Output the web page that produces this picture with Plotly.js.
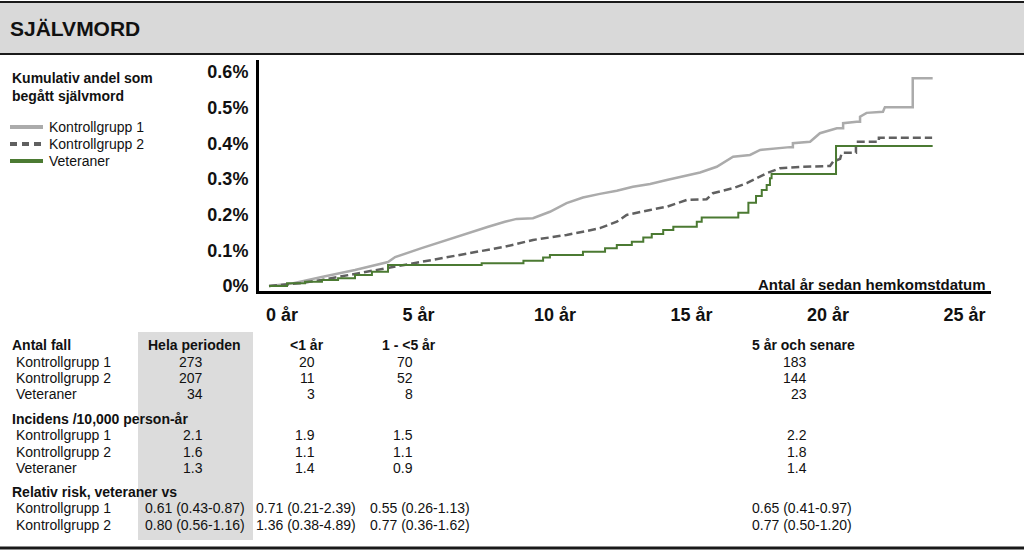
<!DOCTYPE html>
<html><head><meta charset="utf-8">
<script src="https://cdn.plot.ly/plotly-3.0.1.min.js"></script>
<style>html,body{margin:0;padding:0;background:#fff}#chart{width:1024px;height:552px}</style>
</head><body><div id="chart"></div>
<script>
// ---------- data ----------
const chartTitle = 'SJÄLVMORD';
const legendTitle = 'Kumulativ andel som<br>begått självmord';
const xAxisTitle = 'Antal år sedan hemkomstdatum';
const seriesNames = ['Kontrollgrupp 1', 'Kontrollgrupp 2', 'Veteraner'];

// Kontrollgrupp 1 (years since homecoming, cumulative %)
const k1Years = [0, 0.77, 1.93, 3.15, 4.36, 4.62, 5.59, 6.81, 8.03, 8.64, 9.07, 9.67, 10.29, 10.90, 11.50, 12.12, 12.74, 13.33, 13.96, 14.57, 15.16, 15.79, 16.40, 17.00, 17.62, 17.99, 19.08, 19.19, 19.19, 19.82, 20.18, 20.80, 21.03, 21.03, 21.53, 21.65, 21.65, 21.89, 22.49, 22.56, 23.58, 23.58, 24.31];
const k1Pct   = [0, 0.006, 0.025, 0.045, 0.067, 0.081, 0.106, 0.137, 0.166, 0.180, 0.188, 0.190, 0.208, 0.232, 0.248, 0.258, 0.267, 0.278, 0.286, 0.297, 0.308, 0.318, 0.334, 0.362, 0.367, 0.381, 0.389, 0.389, 0.400, 0.404, 0.428, 0.442, 0.442, 0.456, 0.460, 0.460, 0.474, 0.485, 0.488, 0.501, 0.501, 0.582, 0.582];

// Kontrollgrupp 2
const k2Years = [0, 1.14, 1.93, 3.15, 4.37, 5.59, 6.81, 8.03, 8.64, 9.67, 10.29, 10.90, 11.50, 12.12, 12.74, 13.10, 13.96, 14.57, 15.30, 16.03, 16.26, 17.00, 17.50, 17.73, 18.23, 18.72, 19.51, 20.55, 20.66, 20.92, 20.98, 21.50, 21.50, 22.34, 22.34, 24.29];
const k2Pct   = [0, 0.008, 0.017, 0.034, 0.050, 0.068, 0.084, 0.101, 0.110, 0.129, 0.136, 0.143, 0.152, 0.162, 0.180, 0.199, 0.213, 0.222, 0.241, 0.243, 0.260, 0.274, 0.288, 0.297, 0.316, 0.330, 0.334, 0.336, 0.348, 0.356, 0.373, 0.373, 0.404, 0.404, 0.415, 0.415];

// Veteraner (step function)
const vetYears = [0, 0.66, 1.32, 1.94, 2.53, 3.15, 3.77, 4.36, 7.79, 9.32, 10.04, 10.29, 11.50, 12.31, 12.74, 13.29, 13.71, 14.02, 14.44, 14.81, 15.67, 15.85, 17.19, 17.56, 17.84, 18.05, 18.23, 18.35, 18.41, 20.77, 24.31];
const vetPct   = [0, 0.008, 0.012, 0.017, 0.022, 0.031, 0.040, 0.059, 0.064, 0.071, 0.080, 0.087, 0.096, 0.106, 0.115, 0.124, 0.136, 0.146, 0.157, 0.166, 0.180, 0.192, 0.205, 0.233, 0.252, 0.269, 0.283, 0.302, 0.314, 0.392, 0.392];

const xTickVals = [0, 5, 10, 15, 20, 25];
const xTickText = ['0 år', '5 år', '10 år', '15 år', '20 år', '25 år'];
const yTickVals = [0, 0.1, 0.2, 0.3, 0.4, 0.5, 0.6];
const yTickText = ['0%', '0.1%', '0.2%', '0.3%', '0.4%', '0.5%', '0.6%'];

// table
const tableColumns = ['Hela perioden', '<1 år', '1 - <5 år', '5 år och senare'];
const sectionTitles = ['Antal fall', 'Incidens /10,000 person-år', 'Relativ risk, veteraner vs'];
const groupLabels = ['Kontrollgrupp 1', 'Kontrollgrupp 2', 'Veteraner'];
const casesK1 = ['273', '20', '70', '183'];
const casesK2 = ['207', '11', '52', '144'];
const casesVet = ['34', '3', '8', '23'];
const incK1 = ['2.1', '1.9', '1.5', '2.2'];
const incK2 = ['1.6', '1.1', '1.1', '1.8'];
const incVet = ['1.3', '1.4', '0.9', '1.4'];
const rrK1 = ['0.61 (0.43-0.87)', '0.71 (0.21-2.39)', '0.55 (0.26-1.13)', '0.65 (0.41-0.97)'];
const rrK2 = ['0.80 (0.56-1.16)', '1.36 (0.38-4.89)', '0.77 (0.36-1.62)', '0.77 (0.50-1.20)'];

// ---------- layout geometry (pixels) ----------
const W = 1024, H = 552;
const L = 259, R = 991, T = 60, B = 291;
const px = x => (x - L) / (R - L);
const py = y => (B - y) / (B - T);
const FONT = 'Liberation Sans, Arial, sans-serif';
const esc = s => s.replace(/&/g, '&amp;').replace(/</g, '&lt;').replace(/>/g, '&gt;');

const colors = ['#ababab', '#606060', '#4b7a32'];
const dashes = ['solid', '8px,4px', 'solid'];

const traces = [
  {x: k1Years, y: k1Pct, name: seriesNames[0], type: 'scatter', mode: 'lines', showlegend: false,
   line: {color: colors[0], width: 2.5, shape: 'linear'}},
  {x: k2Years, y: k2Pct, name: seriesNames[1], type: 'scatter', mode: 'lines', showlegend: false,
   line: {color: colors[1], width: 2.5, dash: dashes[1], shape: 'linear'}},
  {x: vetYears, y: vetPct, name: seriesNames[2], type: 'scatter', mode: 'lines', showlegend: false,
   line: {color: colors[2], width: 2, shape: 'hv'}}
];

const annotations = [];
const shapes = [];
function ann(text, x, y, anchor, size, bold) {
  annotations.push({xref: 'paper', yref: 'paper', x: px(x), y: py(y), xanchor: anchor, yanchor: 'middle',
    showarrow: false, text: text, font: {family: FONT, size: size, color: '#111', weight: bold ? 'bold' : 'normal'}});
}

// header band & rules
shapes.push({type: 'rect', xref: 'paper', yref: 'paper', x0: px(0), x1: px(W), y0: py(54), y1: py(2), fillcolor: '#d9d9d9', line: {width: 0}, layer: 'below'});
shapes.push({type: 'line', xref: 'paper', yref: 'paper', x0: px(0), x1: px(W), y0: py(2), y1: py(2), line: {color: '#1a1a1a', width: 2}});
shapes.push({type: 'line', xref: 'paper', yref: 'paper', x0: px(0), x1: px(W), y0: py(54), y1: py(54), line: {color: '#1a1a1a', width: 2}});
shapes.push({type: 'line', xref: 'paper', yref: 'paper', x0: px(0), x1: px(W), y0: py(548), y1: py(548), line: {color: '#1a1a1a', width: 3}});
// highlighted column
shapes.push({type: 'rect', xref: 'paper', yref: 'paper', x0: px(138), x1: px(253), y0: py(540), y1: py(332), fillcolor: '#dcdcdc', line: {width: 0}, layer: 'below'});

// legend (title, keys, labels)
ann(legendTitle, 10, 87, 'left', 14, true);
annotations[annotations.length - 1].align = 'left';
const legendY = [127, 144, 161];
seriesNames.forEach((n, i) => {
  shapes.push({type: 'line', xref: 'paper', yref: 'paper', x0: px(10), x1: px(43), y0: py(legendY[i]), y1: py(legendY[i]),
    line: {color: colors[i], width: 4, dash: i === 1 ? '7px,5px' : 'solid'}});
  ann(esc(n), 47, legendY[i], 'left', 14, false);
});

// x axis title inside the plot
ann(xAxisTitle, 988, 284, 'right', 15, true);

// table
const headerY = [345, 419, 492];
const rowY = [[362, 378, 394], [435, 452, 468], [508, 525]];
const headCenter = [194, 307, 409, 803];
const numRight = [205, 317, 415, 809];
const rrCenter = [195, 306, 420, 802];
sectionTitles.forEach((s, i) => ann(esc(s), 10, headerY[i], 'left', 14, true));
tableColumns.forEach((c, j) => ann(esc(c), headCenter[j], headerY[0], 'center', 14, true));
const countRows = [casesK1, casesK2, casesVet];
const incRows = [incK1, incK2, incVet];
const rrRows = [rrK1, rrK2];
groupLabels.forEach((g, i) => {
  ann(esc(g), 14, rowY[0][i], 'left', 14, false);
  countRows[i].forEach((v, j) => ann(v, numRight[j], rowY[0][i], 'right', 14, false));
  ann(esc(g), 14, rowY[1][i], 'left', 14, false);
  incRows[i].forEach((v, j) => ann(v, numRight[j], rowY[1][i], 'right', 14, false));
});
rrRows.forEach((row, i) => {
  ann(esc(groupLabels[i]), 14, rowY[2][i], 'left', 14, false);
  row.forEach((v, j) => ann(v, rrCenter[j], rowY[2][i], 'center', 14, false));
});

const layout = {
  width: W, height: H,
  margin: {l: L, r: W - R, t: T, b: H - B},
  paper_bgcolor: '#ffffff', plot_bgcolor: '#ffffff',
  font: {family: FONT, color: '#111'},
  title: {text: chartTitle, xref: 'container', yref: 'container', x: 10 / W, xanchor: 'left',
          y: 1 - 29 / H, yanchor: 'middle', font: {family: FONT, size: 21, weight: 'bold', color: '#111'}},
  showlegend: false,
  xaxis: {range: [(L - 269) / 27.3, (R - 269) / 27.3], tickmode: 'array', tickvals: xTickVals, ticktext: xTickText,
          showgrid: false, zeroline: false, showline: true, linecolor: '#000', linewidth: 3,
          ticks: '', ticklabelshift: 13, ticklabelstandoff: 5,
          tickfont: {family: FONT, size: 18, weight: 'bold', color: '#111'}, fixedrange: true},
  yaxis: {range: [(286 - B) / 357, (286 - T) / 357], tickmode: 'array', tickvals: yTickVals, ticktext: yTickText,
          showgrid: false, zeroline: false, showline: true, linecolor: '#000', linewidth: 3,
          ticks: '', ticklabelstandoff: 4,
          tickfont: {family: FONT, size: 18, weight: 'bold', color: '#111'}, fixedrange: true},
  shapes: shapes,
  annotations: annotations
};

Plotly.newPlot('chart', traces, layout, {displayModeBar: false, staticPlot: true});
</script>
</body></html>
